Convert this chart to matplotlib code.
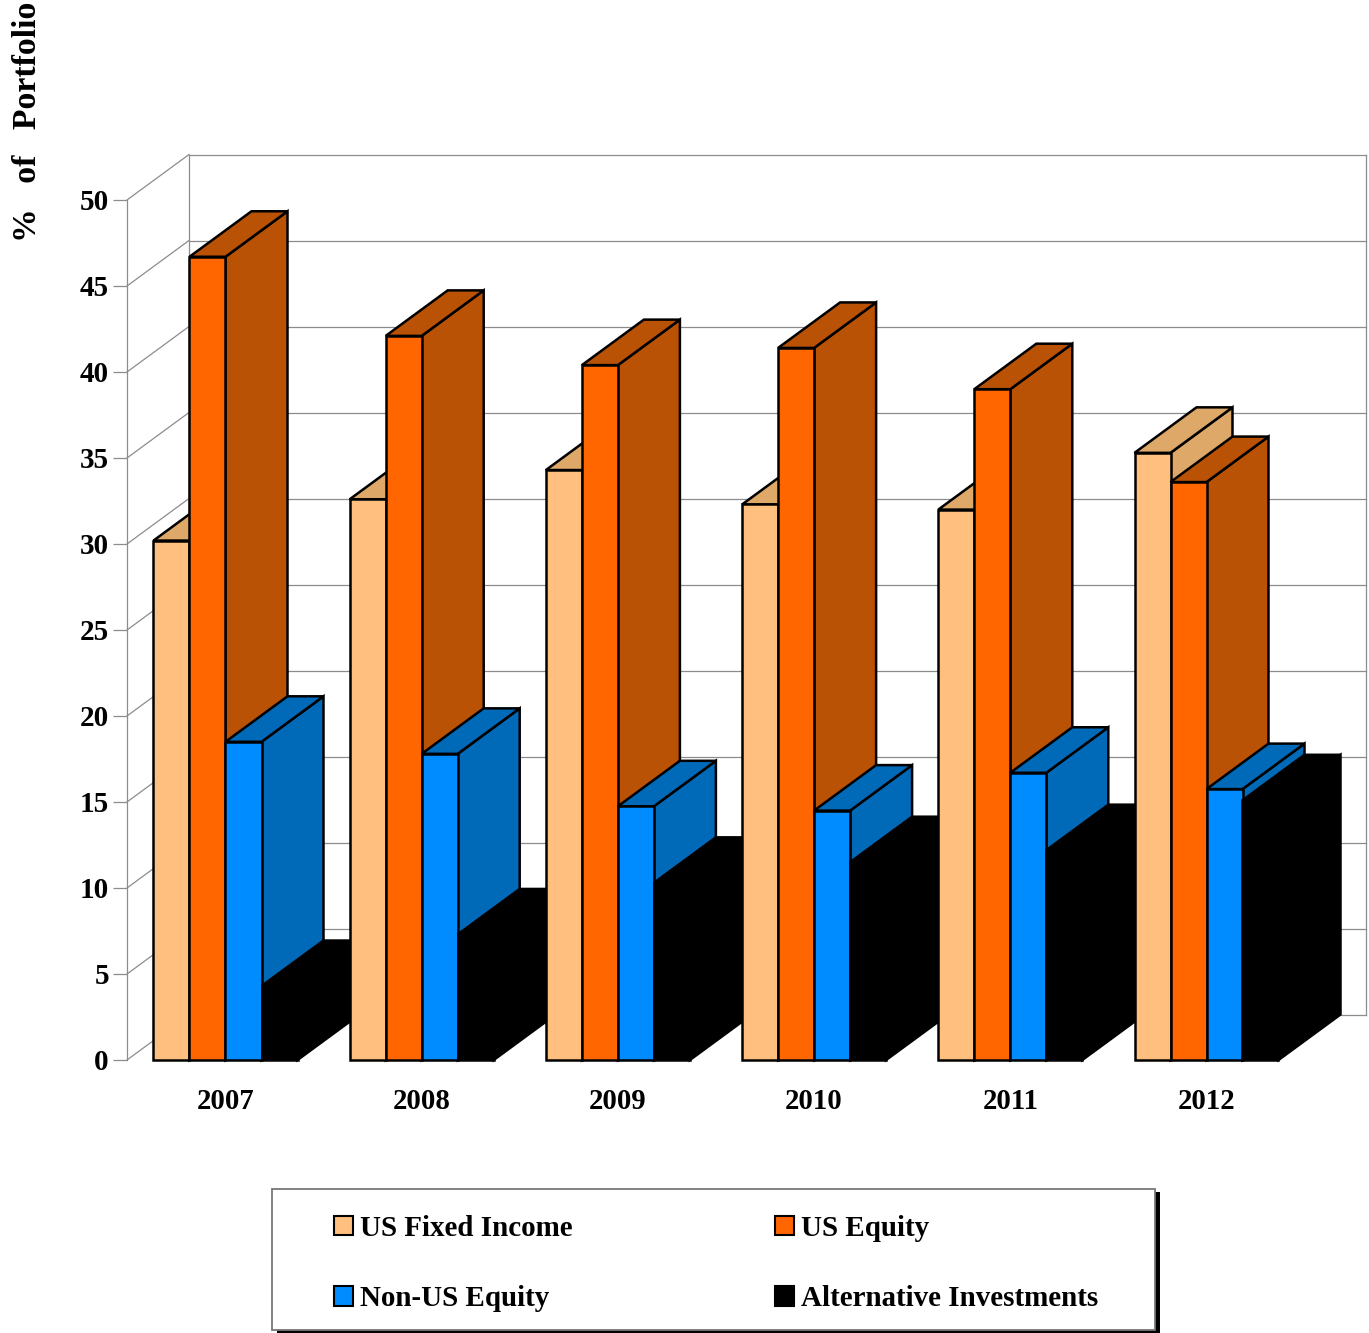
import matplotlib
matplotlib.use("Agg")
import matplotlib.pyplot as plt
from matplotlib.patches import Polygon, Rectangle

# ---------- data ----------
years = ["2007", "2008", "2009", "2010", "2011", "2012"]
us_fixed = [30.2, 32.6, 34.3, 32.3, 32.0, 35.3]
us_equity = [46.7, 42.1, 40.4, 41.4, 39.0, 33.6]
non_us = [18.5, 17.8, 14.75, 14.5, 16.7, 15.75]
alternative = [4.3, 7.3, 10.3, 11.5, 12.2, 15.1]
series_names = ["US Fixed Income", "US Equity", "Non-US Equity", "Alternative Investments"]
y_ticks = list(range(0, 51, 5))

# ---------- style ----------
W, H = 1369, 1333
X0_PX, Y0_PX = 225.5, 1060.0      # pixel of first category centre / value 0
PX_PER_CAT, PX_PER_VAL = 196.2, 17.2
front_col = ["#FFC07F", "#FF6600", "#008CFF", "#000000"]
shade_col = ["#DDA868", "#BA5205", "#0069B8", "#000000"]
GRID = "#8C8C8C"
FONT = "Liberation Serif"

plt.rcParams["font.family"] = FONT
plt.rcParams["font.weight"] = "bold"

fig = plt.figure(figsize=(W / 100, H / 100), dpi=100, facecolor="white")
ax = fig.add_axes([0, 0, 1, 1])
ax.set_xlim(-X0_PX / PX_PER_CAT, (W - X0_PX) / PX_PER_CAT)
ax.set_ylim((Y0_PX - H) / PX_PER_VAL, Y0_PX / PX_PER_VAL)


def X(px):
    return (px - X0_PX) / PX_PER_CAT


def Y(py):
    return (Y0_PX - py) / PX_PER_VAL


bar_w = 36.0 / PX_PER_CAT
dx = 62.0 / PX_PER_CAT
dy = 45.5 / PX_PER_VAL

# ---------- walls ----------
wall_left, wall_right = X(127), X(1366)
back_left = wall_left + dx
for v in y_ticks:
    ax.plot([wall_left, back_left], [v, v + dy], color=GRID, lw=0.9, zorder=1)
    ax.plot([back_left, wall_right], [v + dy, v + dy], color=GRID, lw=0.9, zorder=1)
ax.plot([back_left, back_left], [dy, 50 + dy], color=GRID, lw=0.9, zorder=1)
ax.plot([wall_right, wall_right], [dy, 50 + dy], color=GRID, lw=0.9, zorder=1)

# ---------- bars ----------
all_series = [us_fixed, us_equity, non_us, alternative]
z = 3
for g in range(len(years)):
    for s, vals in enumerate(all_series):
        v = vals[g]
        x1 = g + (s - 2) * bar_w
        x2 = x1 + bar_w
        edge = "black"
        lw = 1.8
        ax.add_patch(Polygon([(x2, 0), (x2 + dx, dy), (x2 + dx, v + dy), (x2, v)],
                             closed=True, fc=shade_col[s], ec=edge, lw=lw,
                             joinstyle="miter", zorder=z))
        ax.add_patch(Polygon([(x1, v), (x2, v), (x2 + dx, v + dy), (x1 + dx, v + dy)],
                             closed=True, fc=shade_col[s], ec=edge, lw=lw,
                             joinstyle="miter", zorder=z))
        ax.add_patch(Rectangle((x1, 0), bar_w, v, fc=front_col[s], ec=edge, lw=lw, zorder=z))
        z += 1

# ---------- axes ----------
for name in ["top", "right", "bottom"]:
    ax.spines[name].set_visible(False)
ax.spines["left"].set_position(("data", wall_left))
ax.spines["left"].set_bounds(0, 50)
ax.spines["left"].set_color(GRID)
ax.spines["left"].set_linewidth(0.9)
ax.spines["bottom"].set_position(("data", 0))
ax.set_yticks(y_ticks)
ax.set_yticklabels([str(v) for v in y_ticks], fontsize=21, fontweight="bold", family=FONT)
ax.tick_params(axis="y", length=10, width=0.9, color=GRID, pad=3)
ax.set_xticks(range(len(years)))
ax.set_xticklabels(years, fontsize=20.7, fontweight="bold", family=FONT)
ax.tick_params(axis="x", length=0, pad=20)

ax.text(X(28), Y(122), "%   of   Portfolio", rotation=90, ha="center", va="center",
        fontsize=24.3, fontweight="bold", family=FONT)

# ---------- legend ----------
bx1, bx2, by1, by2 = X(272), X(1155), Y(1330), Y(1189)
sh = 5
ax.add_patch(Rectangle((X(272 + sh), Y(1330 + 3)), bx2 - bx1, by2 - by1, fc="black", ec="none", zorder=50))
ax.add_patch(Rectangle((bx1, by1), bx2 - bx1, by2 - by1, fc="white", ec="#777777", lw=1.3, zorder=51))
handles = [Rectangle((0, 0), 1, 1, fc=front_col[i], ec="black", lw=1.5) for i in range(4)]
order = [0, 2, 1, 3]
leg = ax.legend([handles[i] for i in order], [series_names[i] for i in order], ncol=2,
                loc="upper left", bbox_to_anchor=(X(334), Y(1215)), bbox_transform=ax.transData,
                frameon=False, borderpad=0, borderaxespad=0, handlelength=0.64, handleheight=0.64,
                handletextpad=0.24, columnspacing=7.0, labelspacing=1.49,
                prop={"family": FONT, "weight": "bold", "size": 20.9})
leg.set_zorder(52)

fig.savefig("out.png", dpi=100, facecolor="white")
